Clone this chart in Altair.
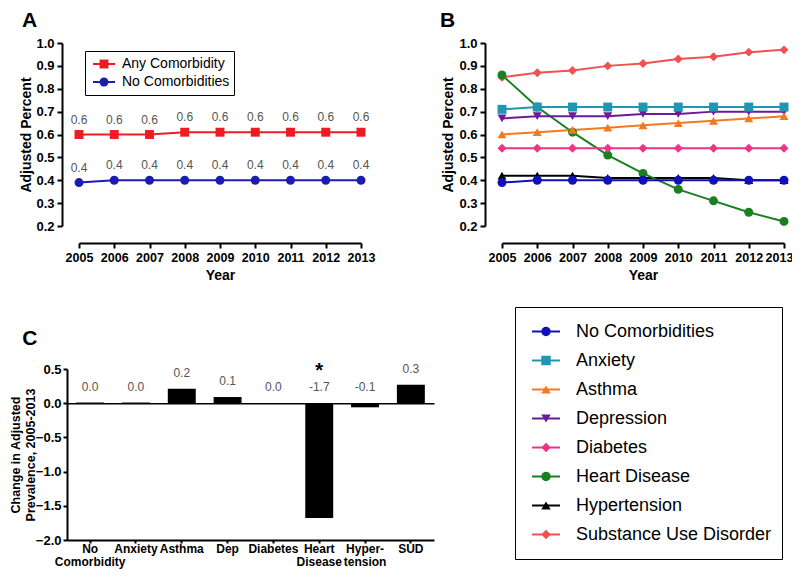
import altair as alt
import pandas as pd

# ---------------- data ----------------
years = [2005, 2006, 2007, 2008, 2009, 2010, 2011, 2012, 2013]

# Panel A
a_series = ["Any Comorbidity", "No Comorbidities"]
a_any = [0.60, 0.60, 0.60, 0.61, 0.61, 0.61, 0.61, 0.61, 0.61]
a_none = [0.39, 0.40, 0.40, 0.40, 0.40, 0.40, 0.40, 0.40, 0.40]
a_colors = ["#ed1c24", "#1c1cb0"]
a_shapes = ["square", "circle"]

# Panel B
b_series = ["No Comorbidities", "Anxiety", "Asthma", "Depression", "Diabetes",
            "Heart Disease", "Hypertension", "Substance Use Disorder"]
b_no_comorb = [0.39, 0.40, 0.40, 0.40, 0.40, 0.40, 0.40, 0.40, 0.40]
b_anxiety = [0.71, 0.72, 0.72, 0.72, 0.72, 0.72, 0.72, 0.72, 0.72]
b_asthma = [0.60, 0.61, 0.62, 0.63, 0.64, 0.65, 0.66, 0.67, 0.68]
b_depression = [0.67, 0.68, 0.68, 0.68, 0.69, 0.69, 0.70, 0.70, 0.70]
b_diabetes = [0.54, 0.54, 0.54, 0.54, 0.54, 0.54, 0.54, 0.54, 0.54]
b_heart = [0.86, 0.72, 0.61, 0.51, 0.43, 0.36, 0.31, 0.26, 0.22]
b_hypertension = [0.42, 0.42, 0.42, 0.41, 0.41, 0.41, 0.41, 0.40, 0.40]
b_sud = [0.85, 0.87, 0.88, 0.90, 0.91, 0.93, 0.94, 0.96, 0.97]
b_colors = ["#1010b8", "#2196b0", "#f47920", "#6a1b9a", "#ee3388",
            "#1a7f1f", "#000000", "#ef5050"]
b_shapes = ["circle", "square", "triangle-up", "triangle-down", "diamond",
            "circle", "triangle-up", "diamond"]

# Panel C
c_categories = ["No|Comorbidity", "Anxiety", "Asthma", "Dep", "Diabetes",
                "Heart|Disease", "Hyper-|tension", "SUD"]
c_change = [0.01, 0.01, 0.21, 0.09, 0.0, -1.68, -0.06, 0.27]
c_labels = ["0.0", "0.0", "0.2", "0.1", "0.0", "-1.7", "-0.1", "0.3"]
c_sig = ["", "", "", "", "", "*", "", ""]

# ---------------- tables ----------------
dfA = pd.DataFrame({
    "year": years * 2,
    "value": a_any + a_none,
    "series": [a_series[0]] * 9 + [a_series[1]] * 9,
})
dfA["label"] = dfA["value"].map(lambda v: f"{v:.1f}")

b_lists = [b_no_comorb, b_anxiety, b_asthma, b_depression, b_diabetes,
           b_heart, b_hypertension, b_sud]
dfB = pd.DataFrame({
    "year": years * len(b_series),
    "value": [v for lst in b_lists for v in lst],
    "series": [s for s in b_series for _ in years],
})
# draw later-listed series first so earlier ones sit on top
dfB = dfB.iloc[::-1].reset_index(drop=True)

dfC = pd.DataFrame({"cat": c_categories, "change": c_change,
                    "label": c_labels, "sig": c_sig})

# ---------------- layout constants (chart pixels) ----------------
W, H = 784, 563
FONT = "Liberation Sans"

axis_common = dict(domainColor="black", domainWidth=2, tickColor="black",
                   tickWidth=2, tickSize=5, labelFont=FONT,
                   labelFontWeight="bold", labelFontSize=13,
                   labelColor="black", titleFont=FONT,
                   titleFontWeight="bold", titleColor="black", grid=False,
                   labelOverlap=False, labelFlush=False)
x_year_common = dict(axis_common)
x_year_common["labelFontSize"] = 12.5

y_vals = [0.2, 0.3, 0.4, 0.5, 0.6, 0.7, 0.8, 0.9, 1.0]


def line_legend(x, y, clip, pad, font, so, lo, ssize):
    return alt.Legend(title=None, orient="none", legendX=x, legendY=y,
                      direction="vertical", symbolType="stroke",
                      symbolSize=ssize, symbolStrokeWidth=2, clipHeight=clip,
                      padding=pad, rowPadding=0, labelFont=FONT,
                      labelFontSize=font, labelColor="black", labelOffset=lo,
                      symbolOffset=so, strokeColor="black", labelLimit=400)


def point_legend(x, y, clip, pad, font, so, lo, psize):
    return alt.Legend(title=None, orient="none", legendX=x, legendY=y,
                      direction="vertical", symbolSize=psize,
                      symbolStrokeWidth=0, clipHeight=clip, padding=pad,
                      rowPadding=0, labelFont=FONT, labelFontSize=font,
                      labelExpr="''", labelOffset=lo, symbolOffset=so,
                      symbolOpacity=1, labelLimit=400)


# ---------------- Panel A ----------------
xA_scale = alt.Scale(domain=[2005, 2013], range=[71, 353], nice=False, zero=False)
yA_scale = alt.Scale(domain=[0.2, 1.0], range=[218, 35], nice=False, zero=False)
xA = alt.X("year:Q", scale=xA_scale,
           axis=alt.Axis(values=years, format="d", title="Year", orient="bottom",
                         offset=235 - H, labelPadding=3, titlePadding=5,
                         titleFontSize=14, **x_year_common))
yA = alt.Y("value:Q", scale=yA_scale,
           axis=alt.Axis(values=y_vals, format=".1f", title="Adjusted Percent",
                         orient="left", offset=-54, labelPadding=3,
                         titleX=-29, titleFontSize=14, **axis_common))
colA = alt.Scale(domain=a_series, range=a_colors)
shpA = alt.Scale(domain=a_series, range=a_shapes)

legA_line = line_legend(77, 43, 18, 4, 14, 3, 6, 484)
legA_pt = point_legend(77, 43, 18, 4, 14, 8, 6, 80)

lineA = alt.Chart(dfA).mark_line(strokeWidth=2).encode(
    x=xA, y=yA, color=alt.Color("series:N", scale=colA, legend=legA_line))
pointA = alt.Chart(dfA).mark_point(filled=True, opacity=1, size=80).encode(
    x=xA, y=yA,
    color=alt.Color("series:N", scale=colA, legend=legA_pt),
    shape=alt.Shape("series:N", scale=shpA, legend=legA_pt))
textA = alt.Chart(dfA).mark_text(dy=-15, fontSize=12, font=FONT, color="#555555").encode(
    x=xA, y=yA, text="label:N")
letterA = alt.Chart(pd.DataFrame({"t": ["A"]})).mark_text(
    align="left", baseline="alphabetic", dx=-57, dy=-16, fontSize=21,
    fontWeight="bold", font=FONT, color="black").encode(
    x=alt.X(datum=2005, scale=xA_scale),
    y=alt.Y(datum=1.0, scale=yA_scale),
    text="t:N")

panelA = alt.layer(lineA, pointA, textA, letterA).resolve_legend(
    color="independent", shape="independent")

# ---------------- Panel B ----------------
xB_scale = alt.Scale(domain=[2005, 2013], range=[494, 776], nice=False, zero=False)
yB_scale = alt.Scale(domain=[0.2, 1.0], range=[218, 35], nice=False, zero=False)
xB = alt.X("year:Q", scale=xB_scale,
           axis=alt.Axis(values=years, format="d", title="Year", orient="bottom",
                         offset=235 - H, labelPadding=3, titlePadding=5,
                         titleFontSize=14,
                         labelOffset={"condition": {"test": "datum.value == 2013",
                                                    "value": -5},
                                      "value": 0},
                         **x_year_common))
yB = alt.Y("value:Q", scale=yB_scale,
           axis=alt.Axis(values=y_vals, format=".1f", title="Adjusted Percent",
                         orient="left", offset=-477, labelPadding=3,
                         titleX=-30, titleFontSize=14, **axis_common))
colB = alt.Scale(domain=b_series, range=b_colors)
shpB = alt.Scale(domain=b_series, range=b_shapes)

legB_line = line_legend(507, 299, 29, 10, 18, 6, 15, 784)
legB_pt = point_legend(507, 299, 29, 10, 18, 12, 15, 90)

lineB = alt.Chart(dfB).mark_line(strokeWidth=2).encode(
    x=xB, y=yB, color=alt.Color("series:N", scale=colB, legend=legB_line))
pointB = alt.Chart(dfB).mark_point(filled=True, opacity=1, size=80).encode(
    x=xB, y=yB,
    color=alt.Color("series:N", scale=colB, legend=legB_pt),
    shape=alt.Shape("series:N", scale=shpB, legend=legB_pt))
letterB = alt.Chart(pd.DataFrame({"t": ["B"]})).mark_text(
    align="left", baseline="alphabetic", dx=-62, dy=-16, fontSize=21,
    fontWeight="bold", font=FONT, color="black").encode(
    x=alt.X(datum=2005, scale=xB_scale),
    y=alt.Y(datum=1.0, scale=yB_scale),
    text="t:N")

panelB = alt.layer(lineB, pointB, letterB).resolve_legend(
    color="independent", shape="independent")

# ---------------- Panel C ----------------
C_TOP, C_BOT = 361, 532
C_ZERO = C_TOP + (C_BOT - C_TOP) * 0.5 / 2.5
xC_scale = alt.Scale(domain=c_categories, range=[59, 426],
                     paddingInner=0.39, paddingOuter=0.2)
yC_scale = alt.Scale(domain=[-2.0, 0.5], range=[C_BOT, C_TOP], nice=False, zero=False)

xC_common = dict(axis_common)
xC_common["tickSize"] = 3
xC_common["labelFontSize"] = 12
xC = alt.X("cat:N", scale=xC_scale, sort=None,
           axis=alt.Axis(orient="bottom", offset=C_BOT - H, title=None,
                         labelAngle=0, labelExpr="split(datum.label, '|')",
                         labelLineHeight=13, labelPadding=0,
                         **xC_common))
yC_common = dict(axis_common)
yC_common["tickSize"] = 4
yC = alt.Y("change:Q", scale=yC_scale,
           axis=alt.Axis(values=[-2.0, -1.5, -1.0, -0.5, 0.0, 0.5], format=".1f",
                         title=["Change in Adjusted", "Prevalence, 2005-2013"],
                         orient="left", offset=-59, labelPadding=2,
                         titleX=-45, titleFontSize=12.5, titleLineHeight=15,
                         **yC_common))

barsC = alt.Chart(dfC).mark_bar(color="black").encode(x=xC, y=yC)

zero_axis = alt.Axis(orient="bottom", offset=C_ZERO - H, title=None, labels=False,
                     ticks=False, domainColor="black", domainWidth=1.5, grid=False)
textC = alt.Chart(dfC).transform_calculate(
    pos="max(datum.change, 0)").mark_text(
    dy=-16, fontSize=12, font=FONT, color="#555555").encode(
    x=alt.X("cat:N", scale=xC_scale, sort=None, axis=zero_axis),
    y=alt.Y("pos:Q", scale=yC_scale, axis=None),
    text="label:N")
starC = alt.Chart(dfC).transform_calculate(
    pos="max(datum.change, 0)").mark_text(
    dy=-32, fontSize=20, font=FONT, fontWeight="bold", color="black").encode(
    x=alt.X("cat:N", scale=xC_scale, sort=None, axis=None),
    y=alt.Y("pos:Q", scale=yC_scale, axis=None),
    text="sig:N")
letterC = alt.Chart(pd.DataFrame({"t": ["C"]})).mark_text(
    align="left", baseline="alphabetic", dx=-68, dy=-24, fontSize=21,
    fontWeight="bold", font=FONT, color="black").encode(
    x=alt.X(datum=c_categories[0], scale=xC_scale, axis=None),
    y=alt.Y(datum=0.5, scale=yC_scale, axis=None),
    text="t:N")

panelC = alt.layer(barsC, textC, starC, letterC).resolve_axis(
    x="independent", y="independent")

# ---------------- compose ----------------
chart = alt.layer(panelA, panelB, panelC).resolve_scale(
    x="independent", y="independent", color="independent",
    shape="independent").resolve_axis(
    x="independent", y="independent").resolve_legend(
    color="independent", shape="independent").properties(
    width=W, height=H, padding=0,
    autosize=alt.AutoSizeParams(type="none"),
    background="white").configure_view(strokeWidth=0)

chart.save("out.html", embed_options={"renderer": "svg", "actions": False})
